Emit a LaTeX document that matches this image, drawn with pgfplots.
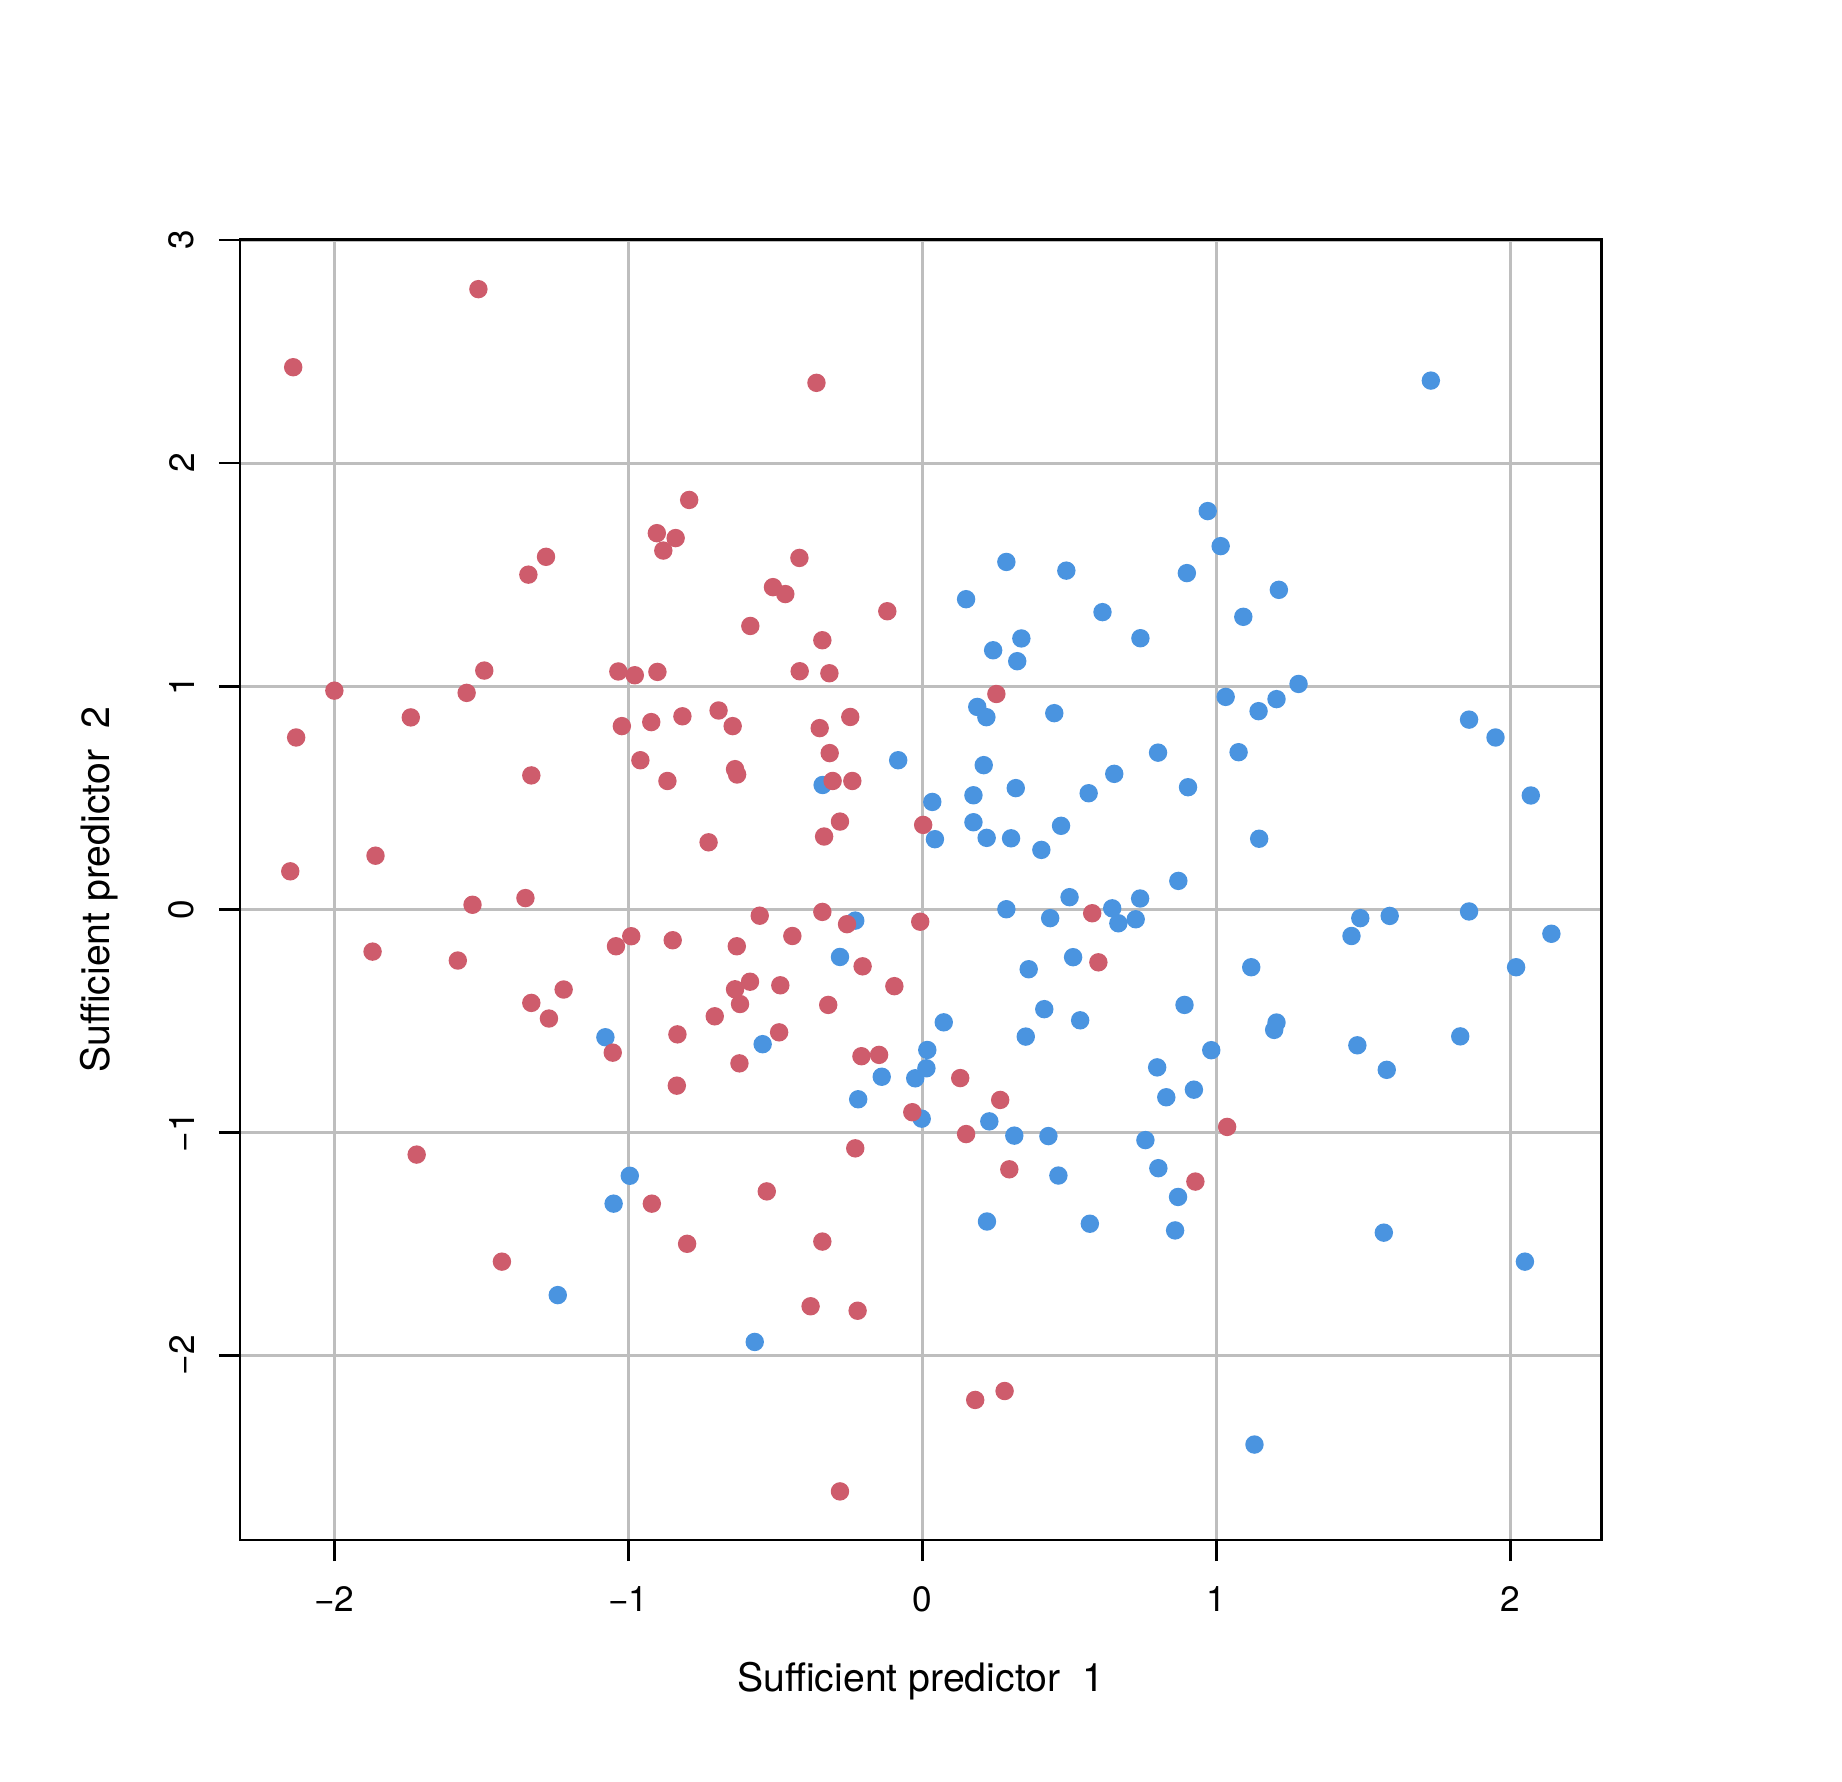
\documentclass[border=0pt]{standalone}
\usepackage{pgfplots}
\pgfplotsset{compat=1.18}
\usepackage{fontspec}
\setmainfont{TeX Gyre Heros}

\definecolor{cred}{RGB}{206,92,108}
\definecolor{cblue}{RGB}{74,148,224}
\definecolor{cgrid}{RGB}{190,190,190}

\begin{document}
\begin{tikzpicture}
\useasboundingbox (-60pt,-60.25pt) rectangle (400.5pt,385pt);
\begin{axis}[
    at={(0,0)}, anchor=south west,
    scale only axis,
    width=340.3pt, height=325.2pt,
    xmin=-2.321, xmax=2.3095,
    ymin=-2.828, ymax=3.004,
    xtick={-2,-1,0,1,2},
    ytick={-2,-1,0,1,2,3},
    xticklabels={−2,−1,0,1,2},
    yticklabels={−2,−1,0,1,2,3},
    tick align=outside,
    major tick length=5.25pt,
    tick style={black, line width=0.67pt},
    xtick pos=bottom, ytick pos=left,
    axis line style={black, line width=0.67pt},
    grid=major,
    major grid style={cgrid, line width=0.75pt},
    tick label style={font=\fontsize{8.8}{10}\selectfont, inner sep=0pt},
    xticklabel style={anchor=north, yshift=-6.3pt},
    yticklabel style={rotate=90, anchor=south, yshift=6pt},
    label style={font=\fontsize{9.8}{11}\selectfont},
    xlabel={Sufficient predictor\ \ 1},
    ylabel={Sufficient predictor\ \ 2},
    xlabel style={at={(axis description cs:0.5,-0.1084)}, anchor=center},
    ylabel style={at={(axis description cs:-0.1036,0.5)}, anchor=center},
]
% class 2 (blue)
\addplot[only marks, mark=*, mark size=2.1pt, color=cblue] coordinates {
(1.73,2.37) (0.971,1.785) (1.015,1.628) (0.900,1.507) (1.213,1.432) (1.092,1.311)
(1.032,0.952) (1.144,0.888) (1.205,0.942) (1.28,1.01) (1.076,0.704) (1.146,0.316)
(0.904,0.547) (0.802,0.702) (0.871,0.127) (0.742,1.215) (0.613,1.332) (0.490,1.518)
(0.286,1.557) (0.149,1.390) (0.241,1.161) (0.337,1.214) (0.323,1.112) (0.187,0.907)
(0.218,0.861) (0.449,0.879) (0.209,0.646) (0.318,0.543) (0.653,0.607) (0.566,0.520)
(0.174,0.511) (0.174,0.390) (0.219,0.320) (0.302,0.318) (0.405,0.266) (0.472,0.374)
(0.034,0.481) (0.043,0.314) (-0.082,0.668) (-0.339,0.557)
(0.501,0.054) (0.286,0.000) (0.435,-0.040) (0.646,0.004) (0.667,-0.063) (0.726,-0.045)
(0.741,0.048) (0.513,-0.215) (0.362,-0.269) (0.415,-0.448) (0.352,-0.571) (0.537,-0.498)
(0.073,-0.507) (0.017,-0.631) (0.014,-0.713) (-0.024,-0.758) (-0.002,-0.939) (0.228,-0.951)
(0.313,-1.015) (0.429,-1.017) (0.22,-1.40) (0.463,-1.194) (0.57,-1.41) (0.759,-1.035)
(0.803,-1.161) (0.87,-1.29) (0.86,-1.44) (0.799,-0.709) (0.830,-0.843) (0.924,-0.809)
(0.892,-0.429) (0.983,-0.632) (1.119,-0.260) (1.205,-0.508) (1.197,-0.541) (1.13,-2.40)
(1.46,-0.12) (1.49,-0.04) (1.59,-0.03) (1.48,-0.61) (1.58,-0.72) (1.57,-1.45)
(1.86,0.85) (1.95,0.77) (2.07,0.51) (1.86,-0.01) (2.02,-0.26) (2.14,-0.11)
(1.83,-0.57) (2.05,-1.58)
(-0.228,-0.051) (-0.280,-0.214) (-0.218,-0.852) (-0.138,-0.751) (-0.543,-0.605)
(-0.57,-1.94) (-1.078,-0.574) (-0.995,-1.195) (-1.05,-1.32) (-1.24,-1.73)
};
% class 1 (red)
\addplot[only marks, mark=*, mark size=2.1pt, color=cred] coordinates {
(-2.14,2.43) (-1.51,2.78) (-0.36,2.36) (-2.00,0.98) (-2.13,0.77) (-2.15,0.17)
(-1.86,0.24) (-1.87,-0.19) (-1.74,0.86) (-1.55,0.97) (-1.49,1.07) (-1.53,0.02)
(-1.58,-0.23) (-1.72,-1.10) (-1.43,-1.58) (-1.35,0.05) (-1.33,0.60) (-1.34,1.50)
(-1.28,1.58) (-1.33,-0.42) (-1.27,-0.49) (-1.22,-0.36)
(-1.034,1.066) (-0.978,1.049) (-1.022,0.821) (-0.959,0.668) (-0.901,1.064) (-0.922,0.839)
(-0.867,0.575) (-0.816,0.865) (-0.903,1.686) (-0.881,1.608) (-0.839,1.664) (-0.793,1.835)
(-1.042,-0.166) (-0.990,-0.121) (-0.849,-0.139) (-1.053,-0.643) (-0.833,-0.561)
(-0.835,-0.791) (-0.92,-1.32) (-0.80,-1.50)
(-0.727,0.30) (-0.693,0.891) (-0.645,0.821) (-0.637,0.628) (-0.630,0.604) (-0.585,1.270)
(-0.706,-0.480) (-0.631,-0.166) (-0.637,-0.359) (-0.620,-0.425) (-0.586,-0.325)
(-0.622,-0.691) (-0.553,-0.029) (-0.529,-1.265)
(-0.508,1.444) (-0.466,1.413) (-0.418,1.575) (-0.417,1.067)
(-0.483,-0.341) (-0.487,-0.552) (-0.442,-0.120)
(-0.340,1.206) (-0.316,1.058) (-0.349,0.812) (-0.315,0.700) (-0.305,0.575) (-0.334,0.326)
(-0.280,0.393) (-0.245,0.862) (-0.238,0.575)
(-0.340,-0.012) (-0.320,-0.429) (-0.256,-0.067) (-0.203,-0.256) (-0.207,-0.659)
(-0.147,-0.653) (-0.095,-0.345) (-0.228,-1.072)
(-0.34,-1.49) (-0.38,-1.78) (-0.22,-1.80) (-0.28,-2.61)
(-0.119,1.336) (0.003,0.378) (-0.007,-0.056) (-0.034,-0.910) (0.129,-0.757) (0.149,-1.008)
(0.252,0.965) (0.265,-0.855) (0.296,-1.166) (0.18,-2.20) (0.28,-2.16) (0.578,-0.018)
(0.599,-0.238) (1.037,-0.976) (0.929,-1.221)
};
\end{axis}
\end{tikzpicture}
\end{document}
